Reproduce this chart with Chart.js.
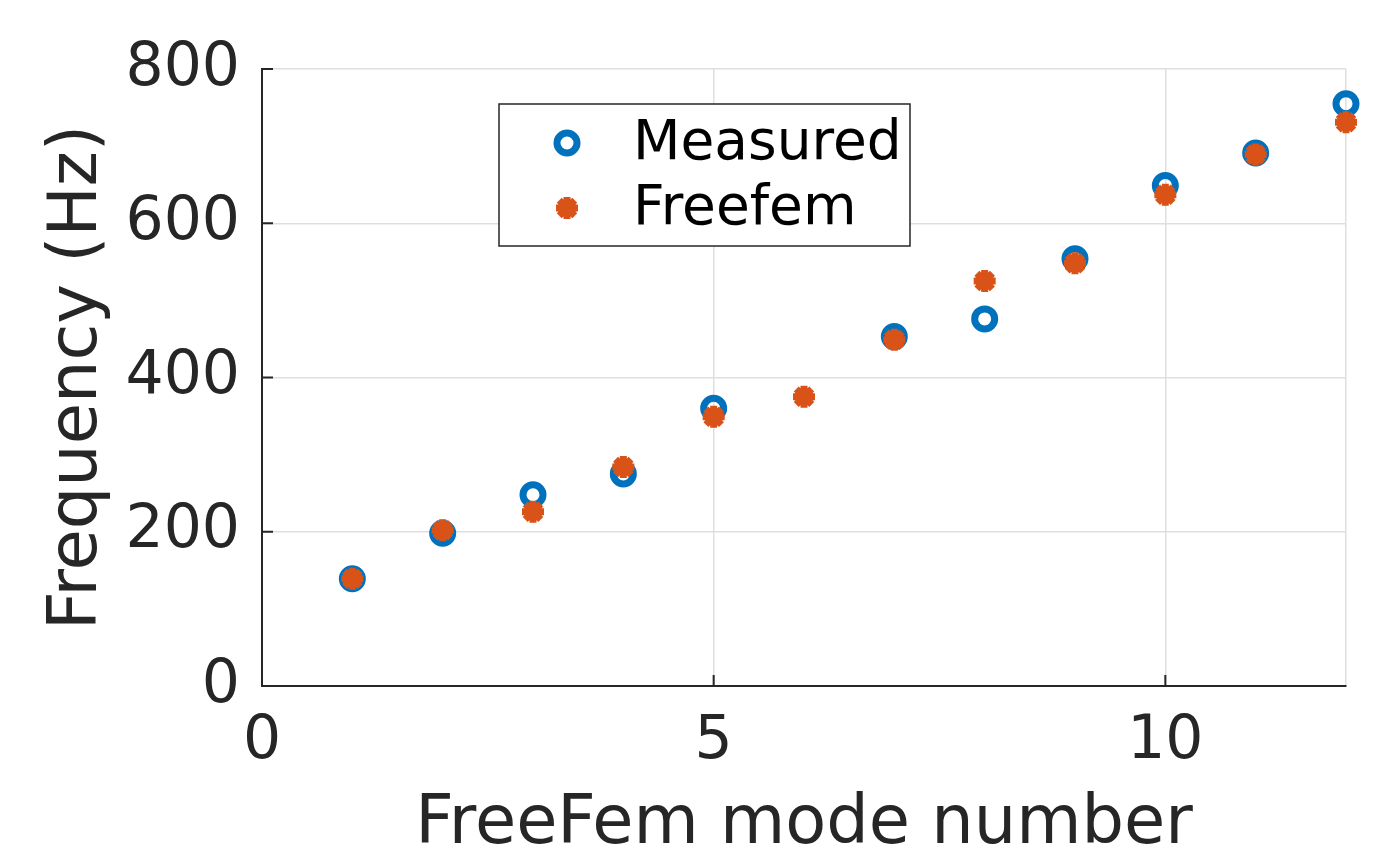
<!DOCTYPE html>
<html>
<head>
<meta charset="utf-8">
<script src="https://cdn.jsdelivr.net/npm/chart.js@4/dist/chart.umd.min.js"></script>
<style>
  body { margin: 0; background: #fff; }
  #wrap { width: 1388px; height: 855px; }
</style>
</head>
<body>
<div id="wrap"><canvas id="myChart" width="1388" height="855"></canvas></div>
<script>
var modos = [1, 2, 3, 4, 5, 6, 7, 8, 9, 10, 11, 12];
var medido = [139, 198, 248, 275, 360, null, 453, 476, 554, 649, 691, 755];
var freefem = [139, 202, 226, 284, 349, 375, 449, 525, 548, 637, 689, 731];
var xTicks = [0, 5, 10];
var yTicks = [0, 200, 400, 600, 800];

var corTexto = "#262626";
var fonte = "DejaVu Sans";

function pontos(valores) {
  var lista = [];
  for (var i = 0; i < modos.length; i++) {
    if (valores[i] !== null) lista.push({ x: modos[i], y: valores[i] });
  }
  return lista;
}

// legenda desenhada dentro do grafico, como no matlab
var legendaPlugin = {
  id: "legendaInterna",
  afterDatasetsDraw: function (chart) {
    var ctx = chart.ctx;
    var area = chart.chartArea;
    var x0 = area.left + 237;
    var y0 = area.top + 35;
    var w = 411, h = 142;
    ctx.save();
    ctx.fillStyle = "#fff";
    ctx.fillRect(x0, y0, w, h);
    ctx.strokeStyle = "#262626";
    ctx.lineWidth = 1.5;
    ctx.strokeRect(x0, y0, w, h);
    ctx.font = "55px '" + fonte + "'";
    ctx.fillStyle = "#000";
    ctx.textBaseline = "middle";
    var linhas = [y0 + 39, y0 + 104];
    chart.data.datasets.forEach(function (ds, i) {
      ctx.strokeStyle = ds.borderColor;
      ctx.fillStyle = ds.backgroundColor;
      ctx.lineWidth = ds.borderWidth;
      Chart.helpers.drawPoint(ctx, {
        pointStyle: ds.pointStyle,
        radius: ds.pointRadius,
        borderWidth: ds.borderWidth
      }, x0 + 68, linhas[i]);
      ctx.fillStyle = "#000";
      ctx.fillText(ds.label, x0 + 134, linhas[i] + 2);
    });
    ctx.restore();
  }
};

// marcas de tick para dentro
var ticksPlugin = {
  id: "ticksDentro",
  afterDraw: function (chart) {
    var ctx = chart.ctx;
    var area = chart.chartArea;
    var sx = chart.scales.x, sy = chart.scales.y;
    ctx.save();
    ctx.strokeStyle = corTexto;
    ctx.lineWidth = 2;
    ctx.beginPath();
    yTicks.forEach(function (v) {
      var py = sy.getPixelForValue(v);
      ctx.moveTo(area.left, py);
      ctx.lineTo(area.left + 11, py);
    });
    xTicks.forEach(function (v) {
      var px = sx.getPixelForValue(v);
      ctx.moveTo(px, area.bottom);
      ctx.lineTo(px, area.bottom - 11);
    });
    ctx.stroke();
    ctx.restore();
  }
};

var ctx = document.getElementById("myChart");
var data = {
  datasets: [
    {
      label: "Measured",
      data: pontos(medido),
      pointStyle: "circle",
      pointRadius: 10,
      borderWidth: 7,
      borderColor: "#0072BD",
      backgroundColor: "rgba(0,0,0,0)",
      showLine: false,
      clip: false,
      order: 2
    },
    {
      label: "Freefem",
      data: pontos(freefem),
      pointStyle: "star",
      pointRadius: 11,
      borderWidth: 7,
      borderColor: "#D95319",
      backgroundColor: "#D95319",
      showLine: false,
      clip: false,
      order: 1
    }
  ]
};

var config = {
  type: "scatter",
  data: data,
  options: {
    responsive: false,
    animation: false,
    layout: { padding: { top: 69, right: 42, left: 0, bottom: 0 } },
    plugins: { legend: { display: false }, tooltip: { enabled: false } },
    scales: {
      x: {
        type: "linear",
        min: 0,
        max: 12,
        afterBuildTicks: function (scale) {
          scale.ticks = xTicks.concat([12]).map(function (v) { return { value: v }; });
        },
        afterFit: function (scale) { scale.height = 169; },
        ticks: {
          color: corTexto,
          font: { family: fonte, size: 60 },
          padding: 20,
          maxRotation: 0,
          callback: function (v) { return xTicks.indexOf(v) >= 0 ? String(v) : ""; }
        },
        grid: { color: "#dfdfdf", lineWidth: 1.5, drawTicks: false },
        border: { color: corTexto, width: 2 },
        title: {
          display: true,
          text: "FreeFem mode number",
          color: corTexto,
          font: { family: fonte, size: 67, lineHeight: 1 },
          padding: { top: 0, bottom: -4 }
        }
      },
      y: {
        min: 0,
        max: 800,
        afterBuildTicks: function (scale) {
          scale.ticks = yTicks.map(function (v) { return { value: v }; });
        },
        afterFit: function (scale) { scale.width = 262; },
        ticks: {
          color: corTexto,
          font: { family: fonte, size: 60 },
          padding: 22
        },
        grid: { color: "#dfdfdf", lineWidth: 1.5, drawTicks: false },
        border: { color: corTexto, width: 2 },
        title: {
          display: true,
          text: "Frequency (Hz)",
          color: corTexto,
          font: { family: fonte, size: 67, lineHeight: 1 },
          padding: { top: 45, bottom: 0 }
        }
      }
    }
  },
  plugins: [legendaPlugin, ticksPlugin]
};

var myChart = new Chart(ctx, config);
</script>
</body>
</html>
